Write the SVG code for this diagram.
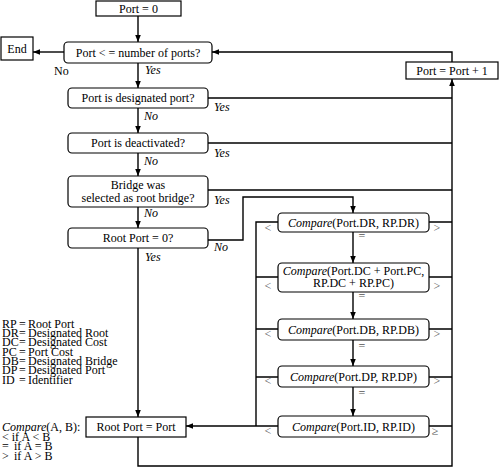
<svg xmlns="http://www.w3.org/2000/svg" width="500" height="468" viewBox="0 0 500 468">
<style>
text{font-family:'Liberation Serif','Times New Roman',serif;font-size:12px;fill:#000}
.c{text-anchor:middle}
.i{font-style:italic}
.g{fill:#555}
.lg{font-size:12px}
.box{fill:#fff;stroke:#000;stroke-width:1.2}
.ln{fill:none;stroke:#000;stroke-width:1.4}
.ar{marker-end:url(#ah)}
</style>
<defs>
<marker id="ah" viewBox="0 0 10 10" refX="10" refY="5" markerWidth="7" markerHeight="7" markerUnits="userSpaceOnUse" orient="auto">
<path d="M0,1 L10,5 L0,9 Z" fill="#000"/>
</marker>
</defs>
<rect width="500" height="468" fill="#fff"/>
<g id="connectors">
<path class="ln ar" d="M138,16 V42"/>
<path class="ln ar" d="M64,52 H33"/>
<path class="ln ar" d="M138,63 V88"/>
<path class="ln ar" d="M138,108 V133"/>
<path class="ln ar" d="M138,153 V176"/>
<path class="ln ar" d="M138,207 V228"/>
<path class="ln ar" d="M138,248 V417"/>
<path class="ln" d="M208,98 H452"/>
<path class="ln" d="M208,143 H452"/>
<path class="ln" d="M208,190 H452"/>
<path class="ln ar" d="M208,240 H243 V197 H353 V213"/>
<path class="ln ar" d="M353,232 V263"/>
<path class="ln ar" d="M353,292 V319"/>
<path class="ln ar" d="M353,340 V366"/>
<path class="ln ar" d="M353,387 V416"/>
<path class="ln" d="M278,222 H256 V426 M278,277 H256 M278,329 H256 M278,377 H256"/>
<path class="ln ar" d="M278,426 H186"/>
<path class="ln" d="M429,222 H452 M429,277 H452 M429,329 H452 M429,377 H452 M429,426 H452"/>
<path class="ln ar" d="M138,437 V466 H452 V79"/>
<path class="ln ar" d="M452,62 V52 H212"/>
</g>
<g font-family="Liberation Serif, Times New Roman, serif">
<g id="n_port0"><rect class="box" x="96" y="1" width="85" height="15"/><text class="c" x="138.5" y="13">Port = 0</text></g>
<g id="n_end"><rect class="box" x="1" y="37" width="32" height="23"/><text class="c" x="17" y="52.5">End</text></g>
<g id="n_loop"><rect class="box" x="64" y="42" width="148" height="21" rx="4"/><text class="c" x="138" y="56.5">Port &lt; = number of ports?</text></g>
<g id="n_inc"><rect class="box" x="406" y="62" width="92" height="17"/><text class="c" x="452" y="74.5">Port = Port + 1</text></g>
<g id="n_desig"><rect class="box" x="68" y="88" width="140" height="20" rx="4"/><text class="c" x="138" y="102">Port is designated port?</text></g>
<g id="n_deact"><rect class="box" x="68" y="133" width="140" height="20" rx="4"/><text class="c" x="138" y="147">Port is deactivated?</text></g>
<g id="n_bridge"><rect class="box" x="68" y="176" width="140" height="31" rx="4"/><text class="c" x="138" y="189">Bridge was</text><text class="c" x="138" y="202">selected as root bridge?</text></g>
<g id="n_rp0"><rect class="box" x="68" y="228" width="140" height="20" rx="4"/><text class="c" x="138" y="242">Root Port = 0?</text></g>
<g id="n_rpset"><rect class="box" x="86" y="417" width="100" height="20"/><text class="c" x="136" y="431">Root Port = Port</text></g>
<g id="n_dr"><rect class="box" x="278" y="213" width="151" height="19" rx="4"/><text class="c" x="353.5" y="226.5"><tspan class="i">Compare</tspan>(Port.DR, RP.DR)</text></g>
<g id="n_dc"><rect class="box" x="278" y="263" width="151" height="29" rx="4"/><text class="c" x="353.5" y="274.5"><tspan class="i">Compare</tspan>(Port.DC + Port.PC,</text><text class="c" x="353.5" y="287">RP.DC + RP.PC)</text></g>
<g id="n_db"><rect class="box" x="278" y="319" width="151" height="21" rx="4"/><text class="c" x="353.5" y="333.5"><tspan class="i">Compare</tspan>(Port.DB, RP.DB)</text></g>
<g id="n_dp"><rect class="box" x="278" y="366" width="151" height="21" rx="4"/><text class="c" x="353.5" y="380.5"><tspan class="i">Compare</tspan>(Port.DP, RP.DP)</text></g>
<g id="n_id"><rect class="box" x="278" y="416" width="151" height="21" rx="4"/><text class="c" x="353.5" y="430.5"><tspan class="i">Compare</tspan>(Port.ID, RP.ID)</text></g>
<g id="labels">
<text x="54" y="75">No</text>
<text class="i" x="145" y="74">Yes</text>
<text class="i" x="214" y="111">Yes</text>
<text class="i" x="144" y="120">No</text>
<text class="i" x="214" y="157">Yes</text>
<text class="i" x="144" y="165">No</text>
<text class="i" x="214" y="204">Yes</text>
<text class="i" x="144" y="217">No</text>
<text class="i" x="214" y="251">No</text>
<text class="i" x="145" y="261">Yes</text>
<text class="c g" x="268" y="232">&lt;</text><text class="c g" x="437" y="232">&gt;</text><text class="c g" x="362" y="240">=</text>
<text class="c g" x="268" y="290">&lt;</text><text class="c g" x="437" y="290">&gt;</text><text class="c g" x="362" y="300">=</text>
<text class="c g" x="268" y="338">&lt;</text><text class="c g" x="437" y="338">&gt;</text><text class="c g" x="362" y="350">=</text>
<text class="c g" x="268" y="385">&lt;</text><text class="c g" x="437" y="385">&gt;</text><text class="c g" x="362" y="397">=</text>
<text class="c g" x="268" y="435">&lt;</text><text class="c g" x="435" y="435">≥</text>
</g>
<g id="legend">
<text class="lg" x="2" y="327.5">RP<tspan x="19">=</tspan><tspan x="28">Root Port</tspan></text>
<text class="lg" x="2" y="337">DR<tspan x="19">=</tspan><tspan x="28">Designated Root</tspan></text>
<text class="lg" x="2" y="346.3">DC<tspan x="19">=</tspan><tspan x="28">Designated Cost</tspan></text>
<text class="lg" x="2" y="355.6">PC<tspan x="19">=</tspan><tspan x="28">Port Cost</tspan></text>
<text class="lg" x="2" y="365">DB<tspan x="19">=</tspan><tspan x="28">Designated Bridge</tspan></text>
<text class="lg" x="2" y="374.3">DP<tspan x="19">=</tspan><tspan x="28">Designated Port</tspan></text>
<text class="lg" x="2" y="383.6">ID<tspan x="19">=</tspan><tspan x="28">Identifier</tspan></text>
<text class="lg" x="2" y="431"><tspan class="i">Compare</tspan>(A, B):</text>
<text class="lg" x="2" y="440.5">&lt; if A &lt; B</text>
<text class="lg" x="2" y="450">=<tspan x="14">if A = B</tspan></text>
<text class="lg" x="2" y="459.5">&gt;<tspan x="14">if A &gt; B</tspan></text>
</g>
</g>
</svg>
